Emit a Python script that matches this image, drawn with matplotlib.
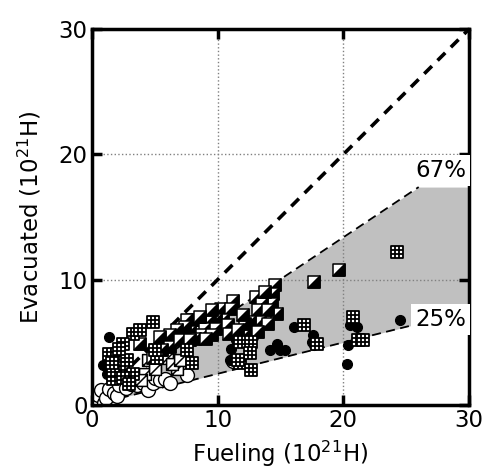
import numpy as np
import matplotlib
matplotlib.use('Agg')
import matplotlib.pyplot as plt
from matplotlib.path import Path

# data (10^21 H)
open_x = [0.3, 0.5, 0.7, 1.0, 1.1, 1.4, 1.8, 2.0, 2.2, 2.7, 3.1, 3.6, 4.1, 4.5, 4.9, 5.0, 5.4, 5.8, 6.2, 7.6, 11.2]
open_y = [0.3, 0.8, 1.2, 0.2, 0.6, 1.3, 1.0, 0.7, 1.6, 1.4, 1.7, 1.6, 1.8, 1.2, 1.8, 2.2, 2.0, 2.1, 1.8, 2.4, 3.5]

black_x = [0.9, 1.2, 1.4, 11.0, 11.1, 11.5, 12.4, 12.8, 14.2, 14.7, 15.0, 15.4, 16.1,
           17.5, 17.6, 17.7, 20.3, 20.4, 20.5, 21.1, 24.5]
black_y = [3.2, 2.5, 5.4, 3.6, 4.5, 5.2, 6.1, 5.4, 4.4, 4.9, 4.4, 4.4, 6.2,
           5.0, 5.6, 4.8, 3.3, 4.8, 6.4, 6.2, 6.8]

grid_x = [4.9, 3.3, 3.8, 2.5, 1.4, 2.0, 2.8, 2.5, 3.3, 1.7, 1.7, 2.5, 3.0, 5.2, 5.0, 7.6, 8.0,
          11.8, 12.7, 11.8, 12.6, 12.7, 11.6, 16.9, 17.9, 20.8, 21.2, 21.6, 24.3, 2.2, 1.6]
grid_y = [6.6, 5.7, 6.0, 4.9, 4.1, 4.1, 3.6, 3.0, 2.5, 2.1, 2.8, 2.2, 1.7, 3.8, 4.4, 4.4, 3.4,
          5.0, 5.0, 3.4, 4.2, 2.8, 3.6, 6.4, 4.9, 7.0, 5.2, 5.2, 12.2, 4.5, 3.4]

half_x = [14.6, 14.4, 14.3, 14.7, 13.1, 13.5, 13.2, 14.0, 13.4, 14.0, 12.6, 12.4, 13.2, 11.2,
          10.3, 11.1, 10.4, 9.9, 9.4, 8.6, 8.0, 7.6, 9.0, 9.9, 10.8, 12.2, 10.9, 7.8, 8.8, 9.6,
          8.2, 7.2, 9.6, 8.6, 7.4, 6.8, 6.2, 5.4, 6.2, 5.6, 7.0, 7.8, 9.1, 3.8, 4.9, 17.7, 19.7,
          13.8, 12.0, 11.6]
half_y = [9.6, 8.9, 8.1, 7.3, 8.6, 8.1, 7.6, 7.6, 6.6, 6.5, 6.6, 5.8, 5.8, 8.3,
          7.7, 7.7, 6.8, 6.8, 6.8, 6.8, 6.8, 6.8, 6.1, 6.1, 6.4, 6.5, 5.7, 5.8, 5.6, 5.6,
          5.3, 5.7, 7.6, 7.0, 6.2, 6.0, 5.6, 5.4, 4.6, 4.4, 5.2, 5.2, 5.3, 4.9, 3.8, 9.8, 10.8,
          9.0, 7.2, 6.0]

slash_x = [4.2, 5.0, 4.5, 6.0, 3.9, 5.0, 6.8, 6.4, 7.0]
slash_y = [2.5, 3.2, 3.6, 3.8, 2.0, 2.9, 2.9, 3.3, 3.6]

# 25% - 67% recycling band
band_x = [0, 26, 30]
band_lo = [0, 6.5, 6.5]
band_hi = [0, 17.4, 17.4]

# marker shapes
square = Path([(-1, -1), (1, -1), (1, 1), (-1, 1), (-1, -1)],
              [Path.MOVETO, Path.LINETO, Path.LINETO, Path.LINETO, Path.CLOSEPOLY])
g = 1 / 3
grid_sq = Path([(-1, -1), (1, -1), (1, 1), (-1, 1), (-1, -1),
                (-g, -1), (-g, 1), (g, -1), (g, 1), (-1, -g), (1, -g), (-1, g), (1, g)],
               [Path.MOVETO, Path.LINETO, Path.LINETO, Path.LINETO, Path.CLOSEPOLY,
                Path.MOVETO, Path.LINETO, Path.MOVETO, Path.LINETO,
                Path.MOVETO, Path.LINETO, Path.MOVETO, Path.LINETO])
tri = Path([(-1, -1), (1, -1), (1, 1), (-1, -1)],
           [Path.MOVETO, Path.LINETO, Path.LINETO, Path.CLOSEPOLY])
slash_sq = Path([(-1, -1), (1, -1), (1, 1), (-1, 1), (-1, -1), (-1, -1), (1, 1)],
                [Path.MOVETO, Path.LINETO, Path.LINETO, Path.LINETO, Path.CLOSEPOLY,
                 Path.MOVETO, Path.LINETO])

fig = plt.figure(figsize=(4.83, 4.70), dpi=100)
ax = fig.add_axes([0.19, 0.138, 0.781, 0.800])

ax.fill_between(band_x, band_lo, band_hi, color='#c0c0c0', lw=0, zorder=0.5)
ax.plot(band_x[:2], band_lo[:2], ls=(0, (5, 3)), color='k', lw=1.3, zorder=1)
ax.plot(band_x[:2], band_hi[:2], ls=(0, (5, 3)), color='k', lw=1.3, zorder=1)
ax.plot([0, 30], [0, 30], ls=(0, (3, 2.2)), color='k', lw=2.6, zorder=1)

ax.plot(open_x, open_y, 'o', ms=10, mfc='white', mec='k', mew=1, ls='none', zorder=2)
ax.plot(black_x, black_y, 'o', ms=7, mfc='k', mec='k', ls='none', zorder=2.1)
ax.plot(slash_x, slash_y, ls='none', marker=slash_sq, ms=8.5, mfc='white', mec='k', mew=1.1, zorder=2.2)
for hx, hy in zip(half_x, half_y):
    ax.plot(hx, hy, ls='none', marker=square, ms=8.7, mfc='white', mec='k', mew=1.1, zorder=2.3)
    ax.plot(hx, hy, ls='none', marker=tri, ms=8.7, mfc='k', mec='k', mew=1.1, zorder=2.3)
ax.plot(grid_x, grid_y, ls='none', marker=grid_sq, ms=8.2, mfc='white', mec='k', mew=1.3, zorder=2.4)

ax.text(27.75, 18.7, '67%', ha='center', va='center', fontsize=16.5,
        bbox=dict(facecolor='white', edgecolor='none', pad=3), zorder=4)
ax.text(27.75, 6.85, '25%', ha='center', va='center', fontsize=16.5,
        bbox=dict(facecolor='white', edgecolor='none', pad=3), zorder=4)

ax.set_xlim(0, 30)
ax.set_ylim(0, 30)
ax.set_xticks([0, 10, 20, 30])
ax.set_yticks([0, 10, 20, 30])
ax.grid(True, ls=':', color='gray', lw=1)
ax.set_axisbelow(True)
ax.tick_params(direction='in', length=7, width=2.5, top=True, right=True, labelsize=16.5, pad=3)
for s in ax.spines.values():
    s.set_linewidth(2.5)

ax.set_xlabel('Fueling (10$^{21}$H)', fontsize=16.5, labelpad=5)
ax.set_ylabel('Evacuated (10$^{21}$H)', fontsize=16.5, labelpad=11)

fig.savefig('out.png', dpi=100)
